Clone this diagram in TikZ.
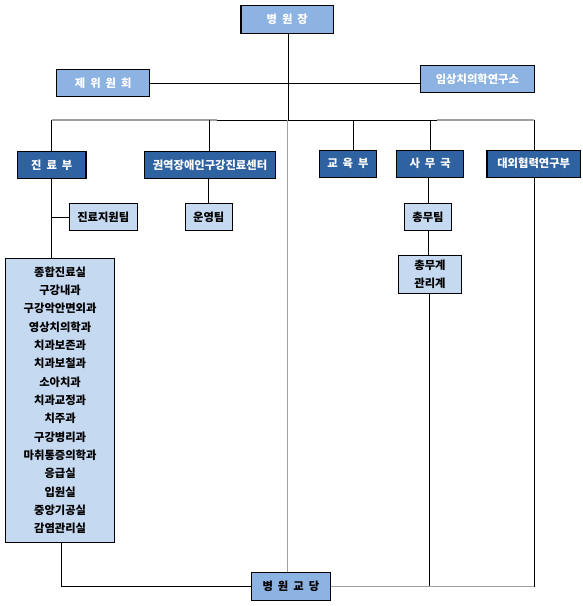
\documentclass[tikz,border=0pt]{standalone}
\usepackage{fontspec}
\setmainfont{Noto Sans CJK KR}
\definecolor{lb}{HTML}{8DB3E2}
\definecolor{db}{HTML}{2F62A0}
\definecolor{pb}{HTML}{C5D9F1}
\definecolor{lg}{HTML}{A0A0A0}
\newcommand{\kg}{\hspace{5pt}}
\begin{document}
\begin{tikzpicture}[x=1pt,y=-1pt,
  box/.style={draw=black, line width=1.1pt, inner sep=0pt, anchor=center,
    font=\fontsize{11.3}{13}\selectfont\bfseries},
  topbox/.style={box, fill=lb, text=white},
  deptbox/.style={box, fill=db, text=white},
  subbox/.style={box, fill=pb, text=black},
  conn/.style={draw=black, line width=0.9pt},
  gconn/.style={draw=lg, line width=1.1pt}]
\useasboundingbox (0,0) rectangle (583,606);

% top
\node[topbox, minimum width=92.7pt, minimum height=27.6pt] (ceo) at (287.3,19.5) {병\kg 원\kg 장};
\node[topbox, minimum width=92.7pt, minimum height=27.4pt] (com) at (103.2,83) {제\kg 위\kg 원\kg 회};
\node[topbox, minimum width=114pt, minimum height=27pt] (lab) at (477.4,78.8) {임상치의학연구소};

% departments
\node[deptbox, minimum width=68.4pt, minimum height=27pt] (jin) at (51.8,164.8) {진\kg 료\kg 부};
\node[deptbox, minimum width=131.6pt, minimum height=27pt] (kw) at (210,164.8) {권역장애인구강진료센터};
\node[deptbox, minimum width=57.7pt, minimum height=26.7pt] (edu) at (347.9,163.7) {교\kg 육\kg 부};
\node[deptbox, minimum width=67.3pt, minimum height=26.7pt] (adm) at (430.2,163.7) {사\kg 무\kg 국};
\node[deptbox, minimum width=93.4pt, minimum height=26.7pt] (ext) at (533.7,163.7) {대외협력연구부};

% teams
\node[subbox, minimum width=68pt, minimum height=27.4pt] (sup) at (103.3,217) {진료지원팀};
\node[subbox, minimum width=47pt, minimum height=27.4pt] (ops) at (208.8,217) {운영팀};
\node[subbox, minimum width=47.4pt, minimum height=27.4pt] (gen) at (428,217) {총무팀};
\node[subbox, minimum width=63.4pt, minimum height=38pt, align=center,
  font=\fontsize{11.3}{18.3}\selectfont\bfseries] (gm) at (430,274.3) {총무계\\관리계};
\node[subbox, minimum width=108.8pt, minimum height=284pt, align=center,
  font=\fontsize{11.3}{18.33}\selectfont\bfseries] (big) at (60.1,400.3)
  {종합진료실\\구강내과\\구강악안면외과\\영상치의학과\\치과보존과\\치과보철과\\소아치과\\치과교정과\\치주과\\구강병리과\\마취통증의학과\\응급실\\입원실\\중앙기공실\\감염관리실};
\node[topbox, text=black, minimum width=78.9pt, minimum height=28.4pt] (chap) at (290.9,586.5) {병\kg 원\kg 교\kg 당};

% coordinates
\coordinate (bus) at (288.5,120);
\coordinate (bL) at (51.8,120);
\coordinate (bA) at (216.7,120);
\coordinate (bB) at (437,120);
\coordinate (bR) at (534.3,120);

% connectors
\draw[conn] (ceo.south -| bus) -- (bus);
\draw[conn] (com.east) -- (lab.west |- com.east);
\draw[gconn] (bL) -- (bA);
\draw[conn] (bA) -- (bB);
\draw[gconn] (bB) -- (bR);
\draw[conn] (bL) -- (jin.north);
\draw[conn] (kw.north -| 209.3,120) -- (209.3,120);
\draw[conn] (353,120) -- (edu.north -| 353,120);
\draw[conn] (adm.north -| 430.5,120) -- (430.5,120);
\draw[conn] (bR) -- (ext.north -| bR);
\draw[gconn] (287.3,120) -- (chap.north -| 287.3,120);

\draw[conn] (jin.south) -- (big.north -| jin.south);
\draw[conn] (jin.south |- sup.west) -- (sup.west);
\draw[conn] (kw.south -| ops.north) -- (ops.north);
\draw[conn] (adm.south -| gen.north) -- (gen.north);
\draw[conn] (gen.south) -- (gm.north -| gen.south);
\draw[conn] (gm.south -| 429,0) -- (429,586.5);
\draw[conn] (ext.south -| bR) -- (bR |- chap.east);
\draw[conn] (big.south -| 61,0) -- (61,586.5) -- (chap.west);
\draw[gconn] (chap.east) -- (bR |- chap.east);
\end{tikzpicture}
\end{document}
